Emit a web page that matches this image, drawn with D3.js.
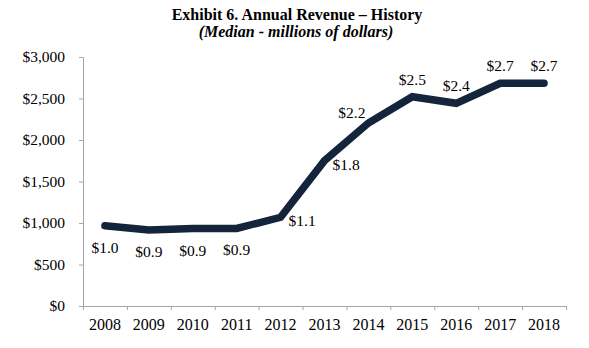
<!DOCTYPE html>
<html>
<head>
    <script src="https://cdn.jsdelivr.net/npm/d3@7"></script>
    <style>
        html, body {
            padding: 0;
            margin: 0;
            background: #fff;
        }
        text {
            font-family: "Liberation Serif", "Times New Roman", serif;
        }
    </style>
</head>
<body>

<script>
    var width = 589;
    var height = 348;

    // data (median revenue, $ thousands)
    var years = ["2008", "2009", "2010", "2011", "2012", "2013", "2014", "2015", "2016", "2017", "2018"];
    var revenue = [967, 916, 933, 935, 1069, 1751, 2205, 2522, 2442, 2683, 2683];
    var labels = ["$1.0", "$0.9", "$0.9", "$0.9", "$1.1", "$1.8", "$2.2", "$2.5", "$2.4", "$2.7", "$2.7"];
    var labelSide = ["below", "below", "below", "below", "right", "right", "left", "above", "above", "above", "above"];
    var yTicks = [0, 500, 1000, 1500, 2000, 2500, 3000];

    // plot box (note: "top" is taken by window.top)
    var plotLeft = 83, plotRight = 566, plotTop = 57, plotBottom = 306;

    var svg = d3.select('body').append('svg')
        .attr('width', width)
        .attr('height', height);

    // title
    svg.append("text")
        .attr("x", 297)
        .attr("y", 20)
        .attr("text-anchor", "middle")
        .style("font-size", "16px")
        .style("font-weight", "bold")
        .text("Exhibit 6. Annual Revenue – History");

    svg.append("text")
        .attr("x", 296)
        .attr("y", 37)
        .attr("text-anchor", "middle")
        .style("font-size", "16px")
        .style("font-weight", "bold")
        .style("font-style", "italic")
        .text("(Median - millions of dollars)");

    var x = d3.scaleBand().domain(years).range([plotLeft, plotRight]).padding(0);
    var y = d3.scaleLinear().domain([0, 3000]).range([plotBottom, plotTop]);

    // y axis
    svg.append("g")
        .attr("class", "yaxis")
        .attr("transform", "translate(" + plotLeft + ",0)")
        .call(d3.axisLeft(y)
            .tickValues(yTicks)
            .tickSize(4)
            .tickPadding(14)
            .tickFormat(function (d) { return "$" + d3.format(",")(d); }));

    // x axis: boundary ticks + centred labels
    var xEdge = d3.scaleLinear().domain([0, years.length]).range([plotLeft, plotRight]);
    svg.append("g")
        .attr("transform", "translate(0," + plotBottom + ")")
        .call(d3.axisBottom(xEdge)
            .tickValues(d3.range(years.length + 1))
            .tickSize(4)
            .tickFormat(""));

    var xLabels = svg.append("g")
        .attr("class", "xaxis")
        .attr("transform", "translate(0," + plotBottom + ")")
        .call(d3.axisBottom(x).tickSize(0).tickPadding(13));
    xLabels.select(".domain").remove();

    svg.selectAll(".domain, .tick line")
        .attr("stroke", "#a6a6a6");
    svg.selectAll(".tick text")
        .attr("fill", "#000")
        .style("font-family", "'Liberation Serif', 'Times New Roman', serif");
    svg.selectAll(".yaxis .tick text").style("font-size", "15.5px");
    svg.selectAll(".xaxis .tick text").style("font-size", "16px");

    // line
    var line = d3.line()
        .x(function (d, i) { return x(years[i]) + x.bandwidth() / 2; })
        .y(function (d) { return y(d); });

    svg.append("path")
        .datum(revenue)
        .attr("d", line)
        .attr("fill", "none")
        .attr("stroke", "#14243b")
        .attr("stroke-width", 7.5)
        .attr("stroke-linejoin", "miter")
        .attr("stroke-linecap", "round");

    // data labels
    svg.selectAll(".dlabel")
        .data(revenue)
        .enter().append("text")
        .attr("class", "dlabel")
        .style("font-size", "15.5px")
        .attr("x", function (d, i) {
            var cx = x(years[i]) + x.bandwidth() / 2;
            if (labelSide[i] == "right") return cx + 8;
            if (labelSide[i] == "left") return cx - 3;
            return cx;
        })
        .attr("y", function (d, i) {
            var cy = y(d);
            if (labelSide[i] == "below") return cy + 27;
            if (labelSide[i] == "right") return cy + 9;
            if (labelSide[i] == "left") return cy - 5;
            return cy - 12;
        })
        .attr("text-anchor", function (d, i) {
            if (labelSide[i] == "right") return "start";
            if (labelSide[i] == "left") return "end";
            return "middle";
        })
        .text(function (d, i) { return labels[i]; });
</script>
</body>
</html>
